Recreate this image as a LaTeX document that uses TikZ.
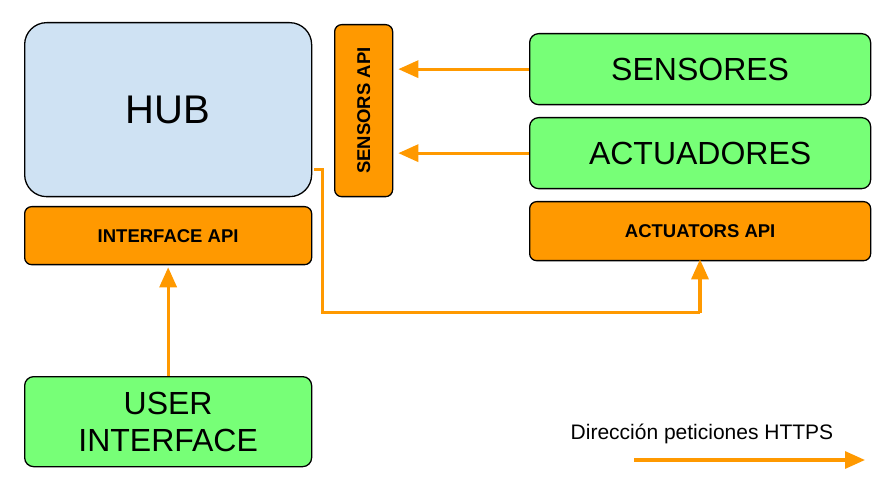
\documentclass[tikz,border=0pt]{standalone}
\usepackage{fontspec}
\setmainfont{Liberation Sans}
\usetikzlibrary{arrows.meta}
\definecolor{hubblue}{HTML}{CFE2F3}
\definecolor{apiorange}{HTML}{FF9900}
\definecolor{devgreen}{HTML}{77FF77}
\begin{document}
\begin{tikzpicture}[x=1pt,y=-1pt,
  box/.style={draw=black,line width=1.3pt,inner sep=0pt,anchor=north west},
  hubbox/.style={box,fill=hubblue,rounded corners=22pt},
  apifont/.style={font=\bfseries\fontsize{18.5}{21}\selectfont},
  apibox/.style={box,fill=apiorange,rounded corners=7pt,apifont},
  devbox/.style={box,fill=devgreen,rounded corners=9pt,font=\fontsize{32}{37}\selectfont,align=center},
  req/.style={draw=apiorange,line width=3.2pt,-{Triangle[length=20pt,width=17pt]}},
  reqline/.style={draw=apiorange,line width=3pt}]
\useasboundingbox (0,0) rectangle (895,497);
\node[hubbox,minimum width=287pt,minimum height=174pt,font=\fontsize{40}{46}\selectfont] (hub) at (24,22) {HUB};
\node[apibox,minimum width=287pt,minimum height=58pt] (iapi) at (24,206) {INTERFACE API};
\node[apibox,minimum width=58pt,minimum height=172pt] (sapi) at (334,24) {};
\node[rotate=90,apifont] (sapitxt) at (sapi.center) {SENSORS API};
\node[devbox,minimum width=341pt,minimum height=71pt] (sens) at (529,33) {SENSORES};
\node[devbox,minimum width=341pt,minimum height=71pt] (act) at (529,117) {ACTUADORES};
\node[apibox,minimum width=341pt,minimum height=59pt] (aapi) at (529,201) {ACTUATORS API};
\node[devbox,minimum width=287pt,minimum height=90pt] (ui) at (24,376) {USER\\INTERFACE};
\node[font=\fontsize{21}{25}\selectfont] (leg) at (702,434) {Dirección peticiones HTTPS};
\coordinate (legs) at (634,460);
\coordinate (lege) at (865,460);
\draw[req] (sens.west) -- ([xshift=5pt]sapi.east |- sens.west);
\draw[req] (act.west) -- ([xshift=5pt]sapi.east |- act.west);
\draw[req] (ui.north) -- ([yshift=-2pt]iapi.south);
\coordinate (h1) at (314,170);
\coordinate (h2) at (322,170);
\coordinate (h3) at (322,313);
\coordinate (h4) at (700,313);
\draw[reqline] (h1) -- (h2) -- (h3) -- (h4);
\draw[req] (h4) -- ([yshift=2pt]aapi.south -| h4);
\draw[req] (legs) -- (lege);
\end{tikzpicture}
\end{document}
